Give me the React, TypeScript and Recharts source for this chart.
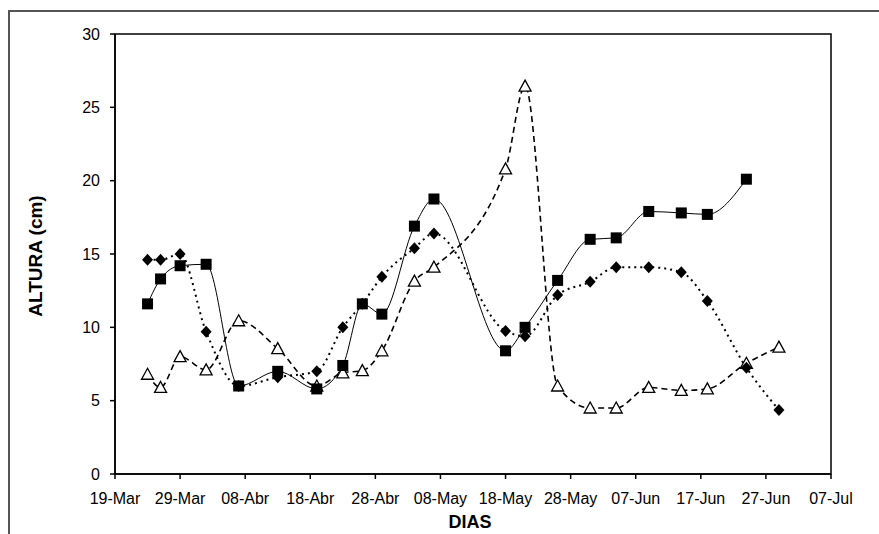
import React from 'react';
import { LineChart, Line, XAxis, YAxis, ReferenceArea } from 'recharts';

// days counted from 19-Mar
const dias = [5, 7, 10, 14, 19, 25, 31, 35, 38, 41, 46, 49, 60, 63, 68, 73, 77, 82, 87, 91, 97, 102];

const alturaCuadrado = [11.6, 13.3, 14.2, 14.3, 6.0, 7.0, 5.8, 7.4, 11.6, 10.9, 16.9, 18.75, 8.4, 10.0, 13.2, 16.0, 16.1, 17.9, 17.8, 17.7, 20.1, null];
const alturaRombo = [14.6, 14.6, 15.0, 9.7, 6.0, 6.6, 7.0, 10.0, 11.6, 13.45, 15.4, 16.4, 9.75, 9.4, 12.2, 13.1, 14.1, 14.1, 13.75, 11.8, 7.25, 4.36];
const alturaTriangulo = [6.8, 5.9, 8.0, 7.1, 10.45, 8.55, 6.0, 6.9, 7.05, 8.4, 13.15, 14.1, 20.8, 26.45, 6.0, 4.5, 4.5, 5.9, 5.7, 5.8, 7.55, 8.65];

const tickDias = [0, 10, 20, 30, 40, 50, 60, 70, 80, 90, 100, 110];
const tickEtiquetas = ['19-Mar', '29-Mar', '08-Abr', '18-Abr', '28-Abr', '08-May', '18-May', '28-May', '07-Jun', '17-Jun', '27-Jun', '07-Jul'];
const tickAltura = [0, 5, 10, 15, 20, 25, 30];

const data = dias.map((d, i) => ({
  dia: d,
  cuadrado: alturaCuadrado[i],
  rombo: alturaRombo[i],
  triangulo: alturaTriangulo[i],
}));

const font = '"Liberation Sans", Arial, sans-serif';

const SquareDot = (props: any) => {
  const { cx, cy, index } = props;
  if (cx == null || cy == null) return <g key={`s-${index}`} />;
  return <rect key={`s-${index}`} x={cx - 5.5} y={cy - 5.5} width={11} height={11} fill="#000" />;
};

const DiamondDot = (props: any) => {
  const { cx, cy, index } = props;
  if (cx == null || cy == null) return <g key={`d-${index}`} />;
  return (
    <path
      key={`d-${index}`}
      d={`M${cx},${cy - 6} L${cx + 5.5},${cy} L${cx},${cy + 6} L${cx - 5.5},${cy} Z`}
      fill="#000"
    />
  );
};

const TriangleDot = (props: any) => {
  const { cx, cy, index } = props;
  if (cx == null || cy == null) return <g key={`t-${index}`} />;
  return (
    <path
      key={`t-${index}`}
      d={`M${cx},${cy - 6} L${cx + 6},${cy + 5} L${cx - 6},${cy + 5} Z`}
      fill="#fff"
      stroke="#000"
      strokeWidth={1.3}
    />
  );
};

export default function App() {
  return (
    <div style={{ position: 'fixed', left: 0, top: 0, width: 879, height: 534, overflow: 'hidden', background: '#fff' }}>
      <div
        style={{
          position: 'absolute',
          left: 8,
          top: 10,
          width: 900,
          height: 600,
          borderLeft: '2px solid #555',
          borderTop: '2px solid #555',
        }}
      />
      <div style={{ position: 'absolute', left: 0, top: 0 }}>
        <LineChart width={879} height={534} data={data} margin={{ top: 34, right: 48, bottom: 0, left: 0 }}>
          <ReferenceArea x1={0} x2={110} y1={0} y2={30} fill="none" stroke="#000" strokeWidth={1.5} />
          <XAxis
            dataKey="dia"
            type="number"
            domain={[0, 110]}
            ticks={tickDias}
            tickFormatter={(v: number) => tickEtiquetas[tickDias.indexOf(v)]}
            height={60}
            tickSize={5}
            tickMargin={14}
            interval={0}
            axisLine={{ stroke: '#000', strokeWidth: 1.5 }}
            tickLine={{ stroke: '#000', strokeWidth: 1.5 }}
            tick={{ fill: '#000', fontSize: 16, fontFamily: font }}
          />
          <YAxis
            type="number"
            domain={[0, 30]}
            ticks={tickAltura}
            width={115}
            tickSize={5}
            tickMargin={10}
            interval={0}
            axisLine={{ stroke: '#000', strokeWidth: 1.5 }}
            tickLine={{ stroke: '#000', strokeWidth: 1.5 }}
            tick={{ fill: '#000', fontSize: 16, fontFamily: font }}
          />
          <Line
            type="monotone"
            dataKey="triangulo"
            stroke="#000"
            strokeWidth={1.6}
            strokeDasharray="6 4"
            dot={TriangleDot}
            activeDot={false}
            isAnimationActive={false}
          />
          <Line
            type="monotone"
            dataKey="rombo"
            stroke="#000"
            strokeWidth={2}
            strokeDasharray="2 4"
            dot={DiamondDot}
            activeDot={false}
            isAnimationActive={false}
          />
          <Line
            type="monotone"
            dataKey="cuadrado"
            stroke="#000"
            strokeWidth={1}
            dot={SquareDot}
            activeDot={false}
            isAnimationActive={false}
          />
        </LineChart>
      </div>
      <div
        style={{
          position: 'absolute',
          left: 36,
          top: 256,
          transform: 'translate(-50%, -50%) rotate(-90deg)',
          fontFamily: font,
          fontWeight: 'bold',
          fontSize: 19,
          whiteSpace: 'nowrap',
          color: '#000',
        }}
      >
        ALTURA (cm)
      </div>
      <div
        style={{
          position: 'absolute',
          left: 470,
          top: 522,
          transform: 'translate(-50%, -50%)',
          fontFamily: font,
          fontWeight: 'bold',
          fontSize: 18,
          whiteSpace: 'nowrap',
          color: '#000',
        }}
      >
        DIAS
      </div>
    </div>
  );
}
